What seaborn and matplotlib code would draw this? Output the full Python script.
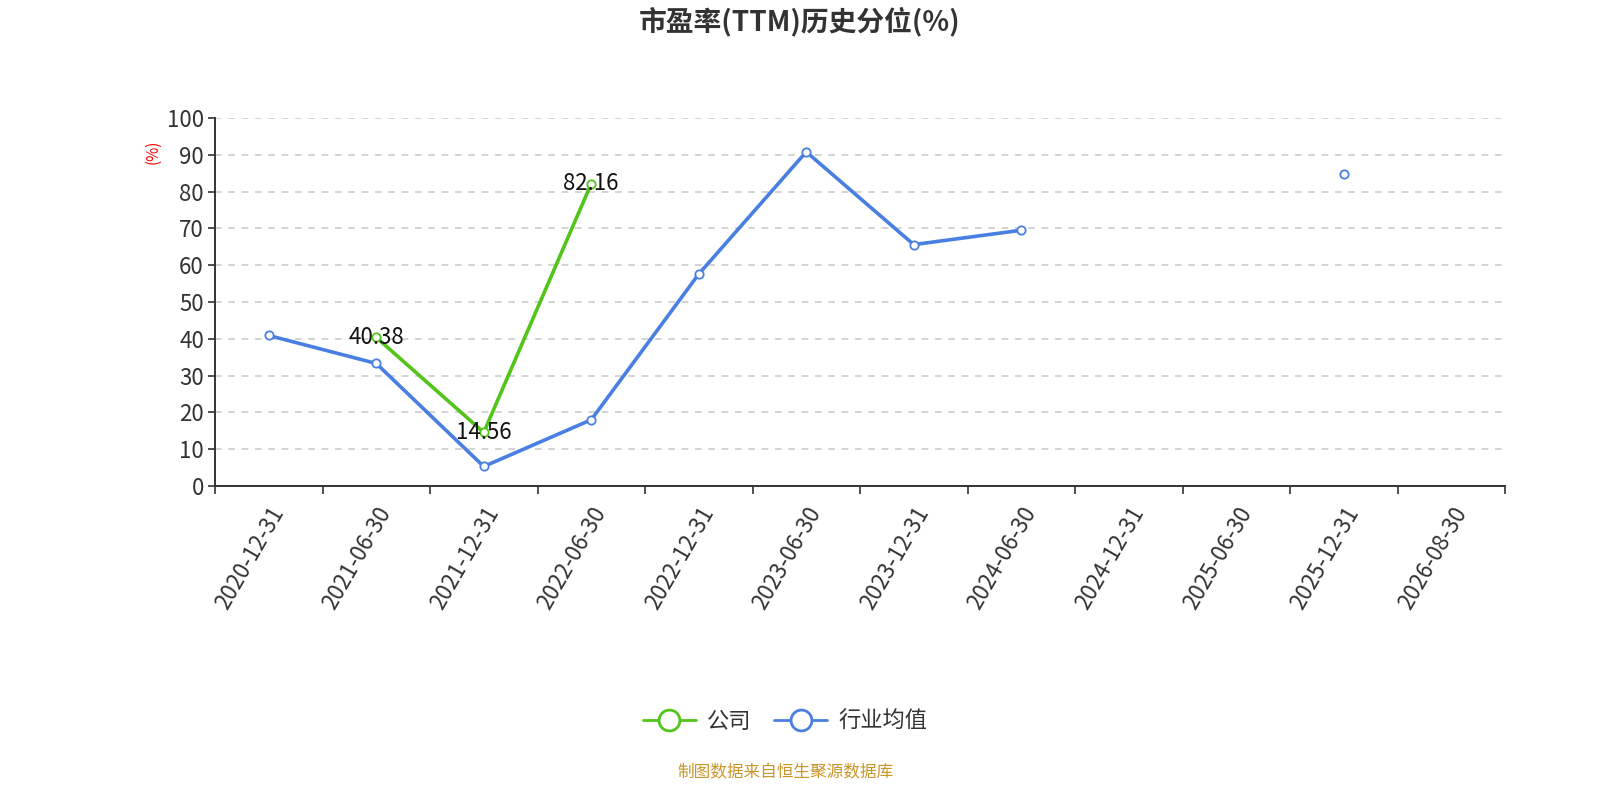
import numpy as np
import pandas as pd
import matplotlib
matplotlib.use("Agg")
import matplotlib.pyplot as plt
import seaborn as sns
from matplotlib.lines import Line2D

dates = ["2020-12-31", "2021-06-30", "2021-12-31", "2022-06-30", "2022-12-31", "2023-06-30",
         "2023-12-31", "2024-06-30", "2024-12-31", "2025-06-30", "2025-12-31", "2026-08-30"]
company = [np.nan, 40.38, 14.56, 82.16, np.nan, np.nan, np.nan, np.nan, np.nan, np.nan, np.nan, np.nan]
industry = [40.9, 33.3, 5.3, 18.0, 57.6, 90.8, 65.6, 69.5, np.nan, np.nan, 84.9, np.nan]

green = "#52c41a"
blue = "#4a7fe2"

sns.set_theme(style="white")
plt.rcParams["font.family"] = ["Noto Sans CJK SC", "DejaVu Sans"]

fig = plt.figure(figsize=(16, 8), dpi=100)
ax = fig.add_axes([215 / 1600, 1 - 486 / 800, 1290 / 1600, 368 / 800])


def to_df(vals):
    # split into runs of non-null values so gaps stay gaps
    rows, seg = [], 0
    prev = False
    for i, v in enumerate(vals):
        ok = not np.isnan(v)
        if ok and not prev:
            seg += 1
        if ok:
            rows.append({"x": i, "y": v, "seg": seg})
        prev = ok
    return pd.DataFrame(rows)


for vals, col in [(industry, blue), (company, green)]:
    df = to_df(vals)
    sns.lineplot(data=df, x="x", y="y", units="seg", estimator=None, color=col,
                 linewidth=2.6, marker="o", markersize=6, markerfacecolor="white",
                 markeredgecolor=col, markeredgewidth=1.3, ax=ax)

for i, v in enumerate(company):
    if not np.isnan(v):
        ax.text(i, v, f"{v:.2f}", ha="center", va="center", fontsize=16, color="#111111")

ax.set_xlim(-0.5, len(dates) - 0.5)
ax.set_ylim(0, 100)
ax.set_yticks(range(0, 101, 10))
ax.set_yticklabels([str(t) for t in range(0, 101, 10)], fontsize=16, color="#333333")
ax.set_xticks(range(len(dates)))
ax.set_xticklabels(dates, rotation=60, ha="right", rotation_mode="anchor", fontsize=16, color="#333333")
ax.set_xticks(np.arange(-0.5, len(dates), 1), minor=True)
ax.tick_params(axis="x", which="major", length=0, pad=12)
ax.tick_params(axis="x", which="minor", bottom=True, length=6, width=1.2, color="#333333", direction="out")
ax.tick_params(axis="y", length=5, width=1.2, color="#333333", direction="out", left=True, pad=3)
ax.set_xlabel("")
ax.set_ylabel("")

ax.grid(axis="y", linestyle=(0, (4, 4)), color="#cccccc", linewidth=1.2)
ax.grid(axis="x", visible=False)
for s in ["top", "right"]:
    ax.spines[s].set_visible(False)
for s in ["left", "bottom"]:
    ax.spines[s].set_color("#333333")
    ax.spines[s].set_linewidth(1.4)

fig.text(153 / 1600, 1 - 152 / 800, "(%)", rotation=90, ha="center", va="center", color="red", fontsize=11)
fig.text(0.5, 1 - 22 / 800, "市盈率(TTM)历史分位(%)", ha="center", va="center",
         fontsize=20, fontweight="bold", color="#333333")

handles = [Line2D([0], [0], color=green, lw=2, marker="o", markersize=15, markerfacecolor="white",
                  markeredgecolor=green, markeredgewidth=2),
           Line2D([0], [0], color=blue, lw=2, marker="o", markersize=15, markerfacecolor="white",
                  markeredgecolor=blue, markeredgewidth=2)]
fig.legend(handles, ["公司", "行业均值"], loc="center", bbox_to_anchor=(785 / 1600, 1 - 721 / 800),
           ncol=2, frameon=False, fontsize=16, handlelength=2.4, columnspacing=1.0,
           handletextpad=0.5, labelcolor="#333333")

fig.text(785 / 1600, 1 - 773 / 800, "制图数据来自恒生聚源数据库", ha="center", va="center",
         fontsize=12, color="#c9962a")

fig.savefig("out.png", dpi=100)
